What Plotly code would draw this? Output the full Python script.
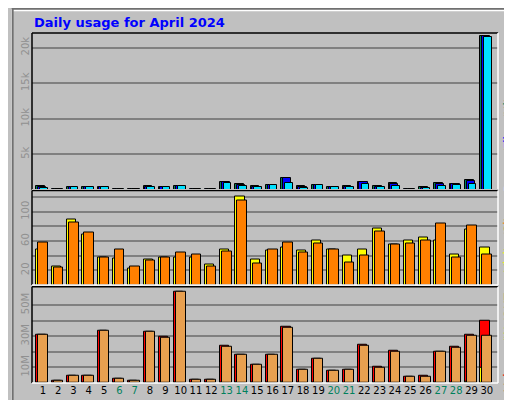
import plotly.graph_objects as go

days = list(range(1, 31))
weekend = [6, 7, 13, 14, 20, 21, 27, 28]

hits = [500, 60, 350, 350, 350, 60, 60, 500, 400, 500, 60, 60, 1100, 800, 500, 700,
        1700, 500, 650, 350, 500, 1100, 500, 900, 60, 350, 900, 800, 1400, 21600]
files = [400, 60, 350, 350, 350, 60, 60, 400, 350, 500, 60, 60, 1050, 700, 450, 650,
         1700, 400, 650, 350, 450, 1050, 450, 850, 60, 300, 850, 750, 1300, 21600]
pages = [300, 60, 350, 350, 350, 60, 60, 350, 350, 500, 60, 60, 900, 600, 450, 650,
         1000, 300, 650, 350, 350, 800, 350, 600, 60, 200, 600, 700, 800, 21500]

visits = [48, 25, 90, 69, 37, 36, 22, 35, 37, 37, 37, 28, 48, 121, 35, 47,
          51, 47, 61, 48, 40, 48, 77, 55, 61, 65, 61, 42, 76, 51]
sites = [58, 24, 86, 72, 37, 48, 25, 33, 37, 44, 42, 25, 46, 116, 29, 48,
         58, 44, 57, 48, 31, 40, 73, 55, 57, 61, 84, 37, 81, 42]

volume = [30.9, 1.3, 4.7, 4.7, 33.5, 2.8, 1.5, 32.9, 29.7, 58.3, 2.2, 2.2, 24.1, 18.1, 11.8, 18.1,
          36.3, 8.6, 15.7, 8.0, 8.6, 24.7, 10.5, 20.9, 4.1, 4.7, 20.2, 23.4, 31.2, 39.6]
vol_in = [0, 0, 0, 0, 0, 0, 0, 0, 0, 0, 0, 0, 0, 0, 0, 0,
          1.0, 0, 0, 0, 0, 0, 0, 0, 0, 0, 0, 0, 1.0, 9.7]
vol_out = [30.9, 1.3, 4.7, 4.7, 33.5, 2.8, 1.5, 32.9, 29.0, 58.3, 2.2, 2.2, 23.4, 18.1, 11.8, 18.1,
           35.7, 8.6, 15.7, 8.0, 8.6, 24.1, 9.9, 20.2, 4.1, 4.1, 20.2, 22.8, 30.3, 30.6]

BG = "#c0c0c0"
fig = go.Figure()


def bars(y, color, offset, width, axis):
    fig.add_trace(go.Bar(x=days, y=y, marker_color=color, offset=offset, width=width,
                         marker_line_color="black", marker_line_width=1,
                         xaxis="x" if axis == 1 else "x%d" % axis,
                         yaxis="y" if axis == 1 else "y%d" % axis,
                         showlegend=False, hoverinfo="skip"))


# top panel: hits / files / pages
bars(hits, "#00805c", -0.42, 0.55, 1)
bars(files, "#0000ff", -0.32, 0.55, 1)
bars(pages, "#00e0ff", -0.18, 0.5, 1)
# middle: visits / sites
bars(visits, "#ffff00", -0.42, 0.6, 2)
bars(sites, "#ff8000", -0.29, 0.62, 2)
# bottom: volume / in / out
bars(volume, "#ff0000", -0.42, 0.6, 3)
bars(vol_in, "#ffff00", -0.42, 0.12, 3)
bars(vol_out, "#e8a050", -0.29, 0.62, 3)

xr = [0.29, 30.73]
tick_font = dict(family="DejaVu Sans", size=10, color="#000000")
ticktext = ['<span style="color:#00805c">%d</span>' % d if d in weekend else str(d) for d in days]
common_x = dict(range=xr, showgrid=False, zeroline=False, showline=False, fixedrange=True)
fig.update_layout(
    width=512, height=400,
    paper_bgcolor=BG, plot_bgcolor=BG,
    margin=dict(l=20, r=22, t=25, b=22),
    barmode="overlay", bargap=0,
    xaxis=dict(**common_x, domain=[0, 1], anchor="y", showticklabels=False),
    xaxis2=dict(**common_x, domain=[0, 1], anchor="y2", showticklabels=False),
    xaxis3=dict(**common_x, domain=[0, 1], anchor="y3", tickvals=days, ticktext=ticktext,
                tickfont=tick_font, ticks="", tickangle=0),
    font=dict(family="DejaVu Sans"),
)
ycommon = dict(gridcolor="#808080", gridwidth=1.5, zeroline=False, tickangle=-90,
               tickfont=dict(family="DejaVu Sans", size=10, color="#909090"), ticks="")
fig.update_layout(
    yaxis=dict(**ycommon, domain=[0.552, 1], range=[0, 22070],
               tickvals=[5000, 10000, 15000, 20000], ticktext=["5k", "10k", "15k", "20k"]),
    yaxis2=dict(**ycommon, domain=[0.28, 0.55], range=[0, 129],
                tickvals=[20, 40, 60, 80, 100, 120], ticktext=["20", "", "60", "", "100", ""]),
    yaxis3=dict(**ycommon, domain=[0, 0.275], range=[0, 61.7],
                tickvals=[10, 20, 30, 40, 50], ticktext=["10M", "", "30M", "", "50M"]),
)

# panel bevel borders
for y0, y1 in [(0.552, 1), (0.28, 0.55), (0, 0.275)]:
    fig.add_shape(type="line", xref="paper", yref="paper", x0=0, x1=1, y0=y1, y1=y1, line=dict(color="black", width=1.5))
    fig.add_shape(type="line", xref="paper", yref="paper", x0=0, x1=0, y0=y0, y1=y1, line=dict(color="black", width=1.5))
    fig.add_shape(type="line", xref="paper", yref="paper", x0=0, x1=1, y0=y0, y1=y0, line=dict(color="white", width=1.5))
    fig.add_shape(type="line", xref="paper", yref="paper", x0=1, x1=1, y0=y0, y1=y1, line=dict(color="white", width=1.5))

# outer frame
fig.add_shape(type="rect", xref="paper", yref="paper", x0=-20 / 470, x1=490 / 470,
              y0=-20 / 353, y1=376 / 353, line=dict(color="white", width=2))
fig.add_shape(type="rect", xref="paper", yref="paper", x0=-19.5 / 470, x1=491.5 / 470,
              y0=-21.5 / 353, y1=377.5 / 353, line=dict(color="#707070", width=2))

fig.add_annotation(text="<b>Daily usage for April 2024</b>", xref="paper", yref="paper",
                   x=0, y=1, yanchor="bottom", xanchor="left", yshift=1, showarrow=False,
                   font=dict(size=13, color="#0000ff", family="DejaVu Sans"))
side = [
    ('<span style="color:#00e0ff">Pages</span> /<span style="color:#0000ff">Files</span> /<span style="color:#00805c">Hits_</span>', 0.70),
    ('<span style="color:#ffff00">Visits</span> /<span style="color:#ff8000">Sites</span>', 0.414),
    ('<span style="color:#ff0000">Volume</span> <span style="color:#ffff00">/IN</span> <span style="color:#e8a050">/OUT</span>', 0.116),
]
for txt, ym in side:
    fig.add_annotation(text=txt, xref="paper", yref="paper", x=1, xanchor="center", xshift=11,
                       y=ym, yanchor="middle", textangle=-90, showarrow=False,
                       font=dict(size=12, family="DejaVu Sans", color="#808080"))

fig.write_html("out.html")
